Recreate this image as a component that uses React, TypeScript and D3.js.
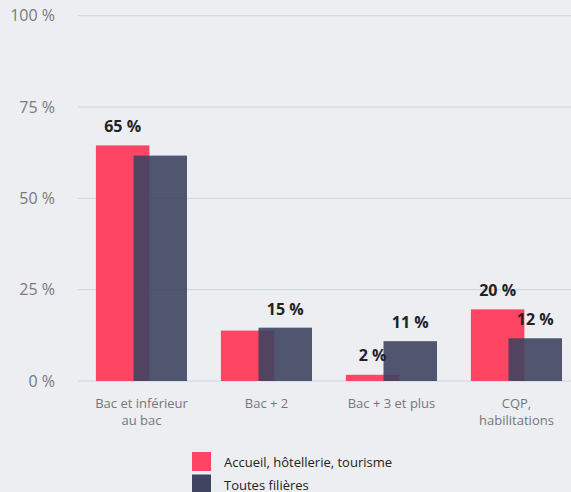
import * as React from 'react';
import * as d3 from 'd3';

const categories: string[][] = [
    ['Bac et inférieur', 'au bac'],
    ['Bac + 2'],
    ['Bac + 3 et plus'],
    ['CQP,', 'habilitations'],
];
const accueil: number[] = [64.5, 13.8, 1.7, 19.6];
const toutes: number[] = [61.7, 14.6, 10.9, 11.7];
// which value labels stay visible (the others are hidden by overlap)
const showAccueil: boolean[] = [true, false, true, true];
const showToutes: boolean[] = [false, true, true, true];
const yTicks: number[] = [0, 25, 50, 75, 100];
const seriesNames: string[] = ['Accueil, hôtellerie, tourisme', 'Toutes filières'];

const W = 571;
const H = 492;
const PINK = '#ff4464';
const DARK = '#3f4560';
const FONT = '"Open Sans", "Noto Sans", sans-serif';

export default function App() {
    const x = d3.scaleBand<number>()
        .domain(d3.range(categories.length))
        .range([79, 579]);
    const y = d3.scaleLinear().domain([0, 100]).range([381, 15.7]);
    const barW = 53.5;
    const step = x.bandwidth();
    const cx = (i: number) => x(i)! + step / 2;

    return (
        <svg width={W} height={H} style={{ position: 'absolute', left: 0, top: 0 }} fontFamily={FONT}>
            <rect x={0} y={0} width={W} height={H} fill="#eceef1" />
            {yTicks.map(t => (
                <g key={t}>
                    <line x1={78} x2={W} y1={y(t)} y2={y(t)}
                        stroke={t === 0 ? '#c9d2e6' : '#cdd4dc'} strokeWidth={1} />
                    <text x={55} y={y(t)} dy="0.35em" textAnchor="end" fontSize={16} fill="#7a7a7a">{t} %</text>
                </g>
            ))}
            {accueil.map((v, i) => (
                <rect key={'a' + i} x={cx(i) - 45.6} y={y(v)} width={barW} height={y(0) - y(v)} fill={PINK} />
            ))}
            {toutes.map((v, i) => (
                <rect key={'t' + i} x={cx(i) - 8} y={y(v)} width={barW} height={y(0) - y(v)} fill={DARK} fillOpacity={0.9} />
            ))}
            {accueil.map((v, i) => showAccueil[i] && (
                <text key={'la' + i} x={cx(i) - 45.6 + barW / 2} y={y(v) - 13.5} textAnchor="middle"
                    fontSize={16} fontWeight="bold" fill="#222">{Math.round(v)} %</text>
            ))}
            {toutes.map((v, i) => showToutes[i] && (
                <text key={'lt' + i} x={cx(i) - 8 + barW / 2} y={y(v) - 13} textAnchor="middle"
                    fontSize={16} fontWeight="bold" fill="#222">{Math.round(v)} %</text>
            ))}
            {categories.map((lines, i) => (
                <text key={'c' + i} x={cx(i)} y={408} textAnchor="middle" fontSize={13} fill="#777">
                    {lines.map((l, j) => (
                        <tspan key={j} x={cx(i)} dy={j === 0 ? 0 : 17}>{l}</tspan>
                    ))}
                </text>
            ))}
            {seriesNames.map((name, i) => (
                <g key={name} transform={`translate(192, ${452 + i * 22.5})`}>
                    <rect width={19} height={19} fill={i === 0 ? PINK : DARK} />
                    <text x={32} y={15} fontSize={13} fill="#222">{name}</text>
                </g>
            ))}
        </svg>
    );
}
